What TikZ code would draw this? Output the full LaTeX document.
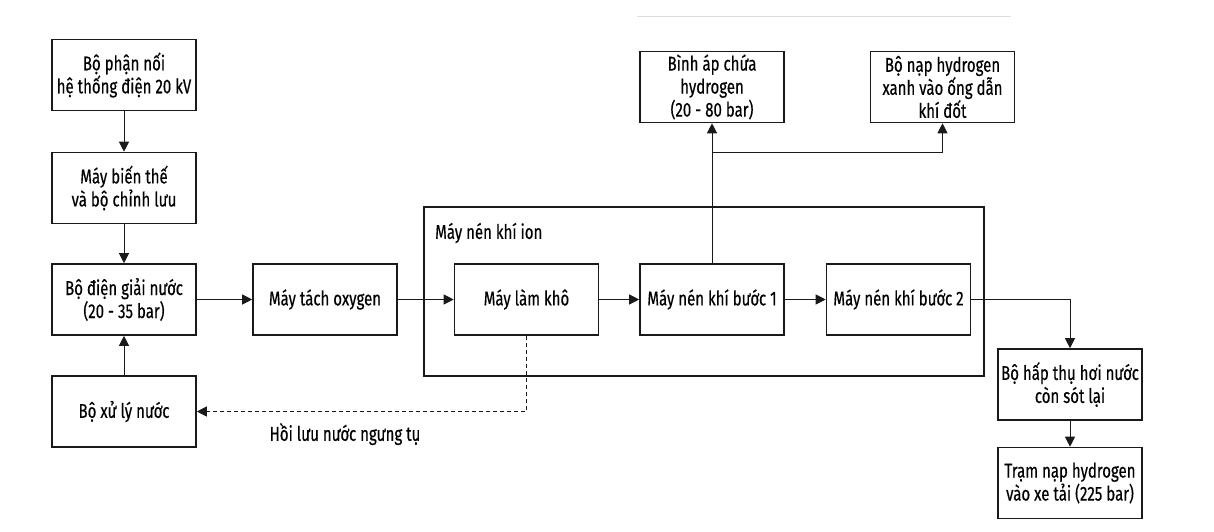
\documentclass[tikz,border=0pt]{standalone}
\usepackage{fontspec}
\setmainfont{Fira Sans}[FakeStretch=0.75,FakeBold=0.4]
\usepackage{xcolor}
\usetikzlibrary{arrows.meta}
\definecolor{hlgray}{HTML}{DCDCDC}
\definecolor{hlink}{HTML}{1A1A1A}

\begin{document}
\begin{tikzpicture}[x=1pt,y=-1pt,
  stagebox/.style={draw=hlink,line width=1.6pt,fill=white,minimum width=144pt,
    minimum height=71pt,inner sep=0pt,align=center,font=\fontsize{20}{23}\selectfont},
  flow/.style={draw=hlink,line width=1pt,-{Triangle[length=10pt,width=10pt]}},
  lbl/.style={inner sep=0pt,font=\fontsize{20}{23}\selectfont}]
  \useasboundingbox (0,0) rectangle (1214,532);
  \draw[hlgray,line width=1pt] (637,17) -- (1011,17);

  % container
  \node[draw=hlink,line width=1.6pt,minimum width=560pt,minimum height=169pt,inner sep=0pt]
    (ion) at (704,291.5) {};
  \node[lbl,anchor=west] (ionlbl) at (435,233) {Máy nén khí ion};

  % left column
  \node[stagebox] (noi) at (124,75) {Bộ phận nối\\hệ thống điện 20 kV};
  \node[stagebox] (bienthe) at (124,188) {Máy biến thế\\và bộ chỉnh lưu};
  \node[stagebox] (dienphan) at (124,299.5) {Bộ điện giải nước\\(20 - 35 bar)};
  \node[stagebox] (xuly) at (124,411.5) {Bộ xử lý nước};

  % main line
  \node[stagebox] (tachoxy) at (325,299.5) {Máy tách oxygen};
  \node[stagebox] (lamkho) at (526.5,299.5) {Máy làm khô};
  \node[stagebox] (buoc1) at (712,299.5) {Máy nén khí bước 1};
  \node[stagebox] (buoc2) at (898.5,299.5) {Máy nén khí bước 2};

  % top
  \node[stagebox] (binhap) at (712,87) {Bình áp chứa\\hydrogen\\(20 - 80 bar)};
  \node[stagebox] (napong) at (942.5,87) {Bộ nạp hydrogen\\xanh vào ống dẫn\\khí đốt};

  % right column
  \node[stagebox] (hapthu) at (1070,384.5) {Bộ hấp thụ hơi nước\\còn sót lại};
  \node[stagebox] (tramnap) at (1070,483) {Trạm nạp hydrogen\\vào xe tải (225 bar)};

  \coordinate (tee) at (712,152);

  \draw[flow] (noi) -- (bienthe);
  \draw[flow] (bienthe) -- (dienphan);
  \draw[flow] (xuly) -- (dienphan);
  \draw[flow] (dienphan) -- (tachoxy);
  \draw[flow] (tachoxy) -- (lamkho);
  \draw[flow] (lamkho) -- (buoc1);
  \draw[flow] (buoc1) -- (buoc2);
  \draw[flow] (buoc1) -- (binhap);
  \draw[flow] (tee) -| (napong.south);
  \draw[flow] (buoc2.east) -| (hapthu.north);
  \draw[flow] (hapthu) -- (tramnap);
  \draw[flow,dash pattern=on 4pt off 3pt] (lamkho.south) |- (xuly.east);
  \node[lbl] (hoiluu) at (345,434) {Hồi lưu nước ngưng tụ};
\end{tikzpicture}
\end{document}
